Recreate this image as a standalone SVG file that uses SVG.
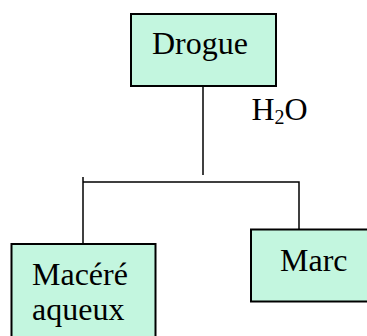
<svg xmlns="http://www.w3.org/2000/svg" width="367" height="336" viewBox="0 0 367 336">
  <style>
    .box { fill: #c3f6df; stroke: #000; stroke-width: 2; }
    .lbl { font-family: "Liberation Serif", "Times New Roman", serif; font-size: 32px; fill: #000; }
    .wire { fill: none; stroke: #000; stroke-width: 1.5; }
  </style>
  <rect width="367" height="336" fill="#fff"/>

  <!-- connectors -->
  <g id="connectors">
    <path class="wire" d="M203 86 V175"/>
    <path class="wire" d="M83 177 V244"/>
    <path class="wire" d="M83 182 H299 V230"/>
  </g>

  <!-- water label beside the trunk -->
  <text class="lbl" x="251.5" y="120">H<tspan font-size="20" dy="4">2</tspan><tspan dy="-4">O</tspan></text>

  <g id="drogue">
    <rect class="box" x="131" y="14" width="145" height="72"/>
    <text class="lbl" x="152" y="54">Drogue</text>
  </g>

  <g id="macere">
    <rect class="box" x="11.5" y="244" width="144" height="100"/>
    <text class="lbl" x="32" y="285">Macéré</text>
    <text class="lbl" x="32" y="320">aqueux</text>
  </g>

  <g id="marc">
    <rect class="box" x="251" y="229.5" width="130" height="72"/>
    <text class="lbl" x="280" y="271">Marc</text>
  </g>
</svg>
